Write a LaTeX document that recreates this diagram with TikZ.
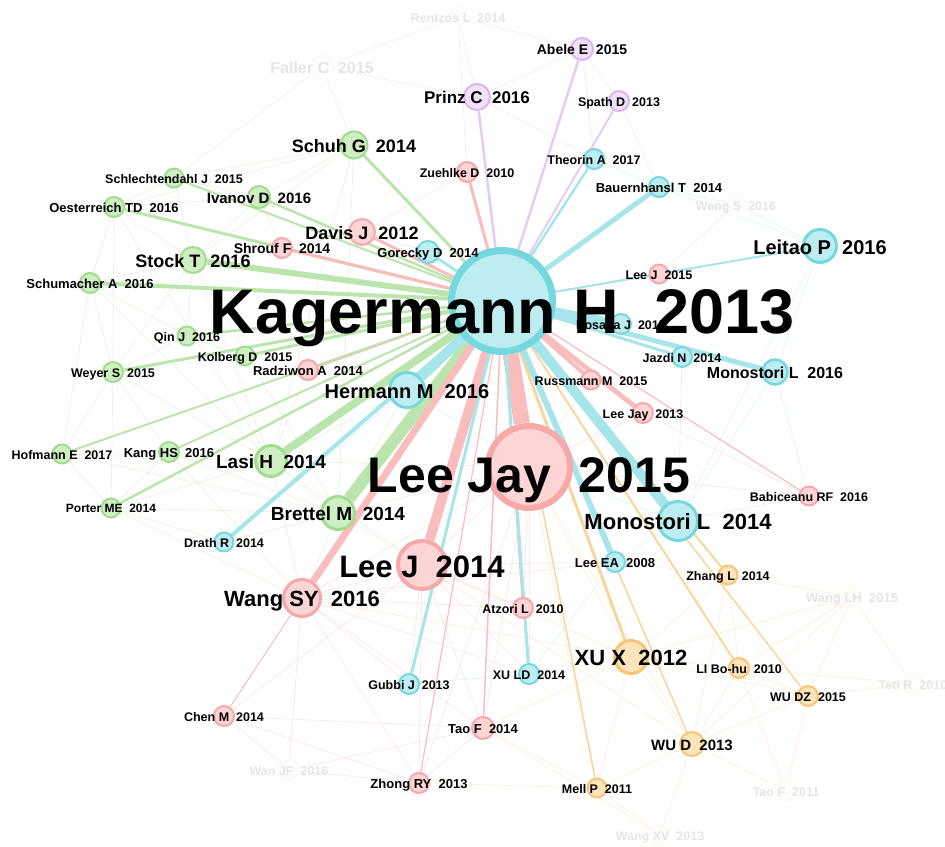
\documentclass[tikz,border=0pt]{standalone}
\usepackage{fontspec}
\setmainfont{Liberation Sans}
\usetikzlibrary{backgrounds}

\definecolor{cyanfill}{HTML}{BDEDF0}
\definecolor{cyanline}{HTML}{74D8DE}
\definecolor{cyanedge}{HTML}{A6E5E9}
\definecolor{redfill}{HTML}{FDD5D5}
\definecolor{redline}{HTML}{F7A8A8}
\definecolor{rededge}{HTML}{F9BDBD}
\definecolor{greenfill}{HTML}{CFEEC3}
\definecolor{greenline}{HTML}{A3DB90}
\definecolor{greenedge}{HTML}{BCE5AE}
\definecolor{purplefill}{HTML}{F0E0F8}
\definecolor{purpleline}{HTML}{DCB6EE}
\definecolor{purpleedge}{HTML}{E6CCF3}
\definecolor{orangefill}{HTML}{FDE4BA}
\definecolor{orangeline}{HTML}{F7C574}
\definecolor{orangeedge}{HTML}{F8D59C}

\newcommand\fsz[1]{\fontsize{#1}{#1}\selectfont\bfseries}

\begin{document}
\begin{tikzpicture}[x=1pt, y=-1pt,
          cnode/.style={circle, inner sep=0, line width=2, draw=cyanline, fill=cyanfill, minimum size=#1},
          rnode/.style={circle, inner sep=0, line width=2, draw=redline, fill=redfill, minimum size=#1},
          gnode/.style={circle, inner sep=0, line width=2, draw=greenline, fill=greenfill, minimum size=#1},
          pnode/.style={circle, inner sep=0, line width=2, draw=purpleline, fill=purplefill, minimum size=#1},
          onode/.style={circle, inner sep=0, line width=2, draw=orangeline, fill=orangefill, minimum size=#1},
          fnode/.style={circle, inner sep=0, line width=1.5, draw=#1!22, fill=#1!8},
          lbl/.style={anchor=base, inner sep=0, font=\fsz{#1}, yshift={-0.4pt*#1}},
          flbl/.style={lbl=#1, text=black!10},
          cedge/.style={draw=cyanedge, line width=#1},
          redge/.style={draw=rededge, line width=#1},
          gedge/.style={draw=greenedge, line width=#1},
          pedge/.style={draw=purpleedge, line width=#1},
          oedge/.style={draw=orangeedge, line width=#1},
          mesh/.style={draw=#1, line width=0.8, opacity=0.35}]
        \useasboundingbox (0,0) rectangle (945,846);

        \node [fnode=purplefill, minimum size=20] (rentzos) at (458,17) {};
        \node [fnode=purplefill, minimum size=24] (faller) at (322,67) {};
        \node [fnode=redfill, minimum size=20] (wangs) at (736,205) {};
        \node [fnode=redfill, minimum size=20] (wanjf) at (289,770) {};
        \node [fnode=orangefill, minimum size=20] (wanglh) at (852,597) {};
        \node [fnode=orangefill, minimum size=20] (tetir) at (913,684) {};
        \node [fnode=orangefill, minimum size=20] (taof11) at (786,791) {};
        \node [fnode=orangefill, minimum size=20] (wangxv) at (660,835) {};

        \node [pnode=22] (abele) at (582,49) {};
        \node [pnode=26] (prinz) at (477,97) {};
        \node [pnode=20] (spath) at (619,101) {};

        \node [gnode=27] (schuh) at (354,145) {};
        \node [gnode=19] (schlecht) at (174,178) {};
        \node [gnode=22] (ivanov) at (259,197) {};
        \node [gnode=20] (oester) at (114,207) {};
        \node [gnode=26] (stock) at (193,260) {};
        \node [gnode=20] (schum) at (90,283) {};
        \node [gnode=19] (qin) at (187,336) {};
        \node [gnode=19] (kolberg) at (245,356) {};
        \node [gnode=20] (weyer) at (113,372) {};
        \node [gnode=19] (hofmann) at (62,454) {};
        \node [gnode=20] (kang) at (169,452) {};
        \node [gnode=31, line width=3] (lasi) at (271,461) {};
        \node [gnode=19] (porter) at (111,508) {};
        \node [gnode=33, line width=3] (brettel) at (338,513) {};

        \node [rnode=26] (davis) at (362,232) {};
        \node [rnode=20] (shrouf) at (282,248) {};
        \node [rnode=20] (zuehlke) at (467,172) {};
        \node [rnode=20] (radz) at (308,370) {};
        \node [rnode=19] (leej15) at (659,274) {};
        \node [rnode=19] (russ) at (591,380) {};
        \node [rnode=20] (leejay13) at (643,413) {};
        \node [rnode=19] (babic) at (809,496) {};
        \node [rnode=20] (atzori) at (523,608) {};
        \node [rnode=20] (chen) at (224,716) {};
        \node [rnode=22] (taof14) at (483,728) {};
        \node [rnode=20] (zhong) at (419,783) {};
        \node [rnode=37, line width=3] (wangsy) at (302,598) {};
        \node [rnode=48, line width=4] (leej14) at (422,565) {};
        \node [rnode=82, line width=6] (leejay15) at (529,467) {};

        \node [cnode=22] (gorecky) at (428,252) {};
        \node [cnode=20] (theorin) at (594,159) {};
        \node [cnode=20] (bauern) at (659,187) {};
        \node [cnode=33, line width=3] (leitao) at (820,246) {};
        \node [cnode=20] (posada) at (621,324) {};
        \node [cnode=20] (jazdi) at (682,357) {};
        \node [cnode=25, line width=2.5] (monost16) at (775,372) {};
        \node [cnode=35, line width=3] (hermann) at (407,390) {};
        \node [cnode=39, line width=3] (monost14) at (678,521) {};
        \node [cnode=19] (drath) at (224,542) {};
        \node [cnode=20] (leeea) at (615,562) {};
        \node [cnode=20] (xuld) at (529,674) {};
        \node [cnode=20] (gubbi) at (409,684) {};
        \node [cnode=101, line width=7] (kag) at (502,301) {};

        \node [onode=33, line width=3] (xux) at (631,657) {};
        \node [onode=19] (zhang) at (728,575) {};
        \node [onode=20] (libohu) at (739,668) {};
        \node [onode=20] (wudz) at (808,696) {};
        \node [onode=24] (wud) at (692,744) {};
        \node [onode=19] (mellp) at (597,788) {};

        \begin{scope}[on background layer]
          \foreach \a/\b in {schuh/ivanov, schuh/stock, schuh/oester, schuh/schlecht, schuh/faller, schuh/lasi, schuh/brettel,
              schlecht/ivanov, schlecht/oester, schlecht/stock, oester/stock, oester/schum, oester/weyer, oester/ivanov,
              ivanov/stock, ivanov/shrouf, stock/schum, stock/qin, stock/weyer, stock/lasi, schum/weyer, schum/hofmann,
              schum/qin, qin/weyer, qin/kolberg, kolberg/weyer, weyer/hofmann, weyer/kang, weyer/porter, weyer/lasi,
              hofmann/porter, hofmann/kang, hofmann/lasi, kang/lasi, kang/porter, kang/brettel, porter/brettel, porter/lasi,
              porter/drath, lasi/brettel, lasi/hermann, brettel/hermann, brettel/leej14, brettel/leejay15, brettel/wangsy,
              lasi/leejay15, brettel/drath, hofmann/brettel, lasi/wangsy, kang/wangsy, porter/wangsy, lasi/leej14,
              schum/lasi, oester/lasi, stock/brettel}
            \draw [mesh=greenedge] (\a) -- (\b);
          \foreach \a/\b in {leejay15/leej14, leejay15/wangsy, leej14/wangsy, wangsy/wanjf, wanjf/chen, wanjf/zhong,
              zhong/taof14, taof14/leej14, zhong/leej14, wangsy/zhong, wangsy/taof14, wangsy/gubbi, leejay15/babic,
              leejay13/babic, leejay15/atzori, atzori/leej14, leejay15/taof14, leejay15/zhong, davis/shrouf, davis/gorecky,
              davis/zuehlke, radz/lasi, leej14/chen, leejay15/leejay13, leejay15/russ, leej14/gubbi, leejay15/xuld,
              babic/monost14, wangs/leej15, wangsy/atzori, chen/zhong, wanjf/taof14, leej14/xuld, wangsy/xuld,
              leej14/leeea, wangsy/leeea, chen/taof14}
            \draw [mesh=rededge] (\a) -- (\b);
          \foreach \a/\b in {xux/wud, xux/mellp, xux/libohu, wud/mellp, wud/wudz, wud/wangxv, mellp/wangxv, wudz/libohu,
              wudz/tetir, wudz/taof11, wanglh/zhang, wanglh/tetir, wanglh/wudz, wanglh/libohu, wud/taof11, libohu/taof11,
              zhang/libohu, xux/zhang, leejay15/xux, leejay15/wud, leejay15/mellp, xux/wudz, wud/libohu, mellp/taof14,
              xux/taof14, wangxv/taof14, wanglh/xux, zhang/wud, libohu/tetir, xux/leej14, wud/leej14, xux/wangsy,
              wanglh/wud, zhang/leeea, mellp/zhong}
            \draw [mesh=orangeedge] (\a) -- (\b);
          \foreach \a/\b in {faller/rentzos, rentzos/abele, faller/prinz, prinz/abele, abele/spath, spath/bauern,
              prinz/theorin, rentzos/prinz, faller/schlecht, rentzos/zuehlke, abele/theorin}
            \draw [mesh=purpleedge] (\a) -- (\b);
          \foreach \a/\b in {leitao/monost16, leitao/bauern, monost16/jazdi, monost14/monost16, leitao/wangs,
              bauern/theorin, bauern/wangs, monost14/leeea, leeea/xuld, gubbi/xuld, hermann/drath, monost14/jazdi,
              leitao/monost14, monost16/babic, hermann/leejay15, monost14/leejay15}
            \draw [mesh=cyanedge] (\a) -- (\b);

          \draw [redge=1] (wangsy) -- (chen);
          \draw [redge=1.2] (kag) -- (babic);
          \draw [redge=1.2] (kag) -- (zhong);
          \draw [redge=1.5] (kag) -- (taof14);
          \draw [redge=1.5] (kag) -- (leej15);
          \draw [redge=2] (kag) -- (atzori);
          \draw [redge=2] (kag) -- (radz);
          \draw [oedge=1.5] (kag) -- (mellp);
          \draw [oedge=1.5] (kag) -- (wud);
          \draw [oedge=1.5] (kag) -- (wudz);
          \draw [oedge=2] (kag) -- (libohu);
          \draw [oedge=2] (kag) -- (zhang);
          \draw [oedge=3] (kag) -- (xux);
          \draw [gedge=2] (kag) -- (schlecht);
          \draw [gedge=2] (kag) -- (hofmann);
          \draw [gedge=2] (kag) -- (kang);
          \draw [gedge=2.5] (kag) -- (porter);
          \draw [gedge=2.5] (kag) -- (ivanov);
          \draw [gedge=2.5] (kag) -- (qin);
          \draw [gedge=3] (kag) -- (kolberg);
          \draw [gedge=3] (kag) -- (weyer);
          \draw [gedge=3] (kag) -- (oester);
          \draw [gedge=3] (kag) -- (schuh);
          \draw [gedge=4] (kag) -- (schum);
          \draw [gedge=6] (kag) -- (stock);
          \draw [gedge=8] (kag) -- (lasi);
          \draw [gedge=12] (kag) -- (brettel);
          \draw [pedge=2] (kag) -- (spath);
          \draw [pedge=2.5] (kag) -- (prinz);
          \draw [pedge=2.5] (kag) -- (abele);
          \draw [redge=3] (kag) -- (davis);
          \draw [redge=3] (kag) -- (shrouf);
          \draw [redge=3] (kag) -- (zuehlke);
          \draw [redge=4] (kag) -- (russ);
          \draw [redge=5] (kag) -- (leejay13);
          \draw [redge=7] (kag) -- (wangsy);
          \draw [redge=10] (kag) -- (leej14);
          \draw [redge=16] (kag) -- (leejay15);
          \draw [cedge=2] (kag) -- (leitao);
          \draw [cedge=2.5] (kag) -- (theorin);
          \draw [cedge=3] (kag) -- (gorecky);
          \draw [cedge=3] (kag) -- (jazdi);
          \draw [cedge=3] (kag) -- (gubbi);
          \draw [cedge=3] (kag) -- (xuld);
          \draw [cedge=4] (kag) -- (drath);
          \draw [cedge=5] (kag) -- (bauern);
          \draw [cedge=5] (kag) -- (monost16);
          \draw [cedge=6] (kag) -- (leeea);
          \draw [cedge=8] (kag) -- (posada);
          \draw [cedge=10] (kag) -- (hermann);
          \draw [cedge=10] (kag) -- (monost14);
        \end{scope}

        \node [flbl=12.5] (rentzos-l) at (rentzos) {Rentzos L~~2014};
        \node [flbl=16] (faller-l) at (faller) {Faller C~~2015};
        \node [flbl=12.5] (wangs-l) at (wangs) {Wang S~~2016};
        \node [flbl=12.5] (wanjf-l) at (wanjf) {Wan JF~~2016};
        \node [flbl=13] (wanglh-l) at (wanglh) {Wang LH~~2015};
        \node [flbl=12.5] (tetir-l) at (tetir) {Teti R~~2010};
        \node [flbl=12.5] (taof11-l) at (taof11) {Tao F~~2011};
        \node [flbl=12.5] (wangxv-l) at (wangxv) {Wang XV~~2013};

        \node [lbl=14] (abele-l) at (abele) {Abele E~~2015};
        \node [lbl=17] (prinz-l) at (prinz) {Prinz C~~2016};
        \node [lbl=12.5] (spath-l) at (spath) {Spath D~~2013};
        \node [lbl=18] (schuh-l) at (schuh) {Schuh G~~2014};
        \node [lbl=12.5] (schlecht-l) at (schlecht) {Schlechtendahl J~~2015};
        \node [lbl=15] (ivanov-l) at (ivanov) {Ivanov D~~2016};
        \node [lbl=13] (oester-l) at (oester) {Oesterreich TD~~2016};
        \node [lbl=18] (stock-l) at (stock) {Stock T~~2016};
        \node [lbl=13] (schum-l) at (schum) {Schumacher A~~2016};
        \node [lbl=12.5] (qin-l) at (qin) {Qin J~~2016};
        \node [lbl=12.5] (kolberg-l) at (kolberg) {Kolberg D~~2015};
        \node [lbl=12.5] (weyer-l) at (weyer) {Weyer S~~2015};
        \node [lbl=12.5] (hofmann-l) at (hofmann) {Hofmann E~~2017};
        \node [lbl=13] (kang-l) at (kang) {Kang HS~~2016};
        \node [lbl=19] (lasi-l) at (lasi) {Lasi H~~2014};
        \node [lbl=12] (porter-l) at (porter) {Porter ME~~2014};
        \node [lbl=19] (brettel-l) at (brettel) {Brettel M~~2014};
        \node [lbl=18] (davis-l) at (davis) {Davis J~~2012};
        \node [lbl=14] (shrouf-l) at (shrouf) {Shrouf F~~2014};
        \node [lbl=12.5] (zuehlke-l) at (zuehlke) {Zuehlke D~~2010};
        \node [lbl=13] (radz-l) at (radz) {Radziwon A~~2014};
        \node [lbl=12.5] (leej15-l) at (leej15) {Lee J~~2015};
        \node [lbl=12.5] (russ-l) at (russ) {Russmann M~~2015};
        \node [lbl=12.5] (leejay13-l) at (leejay13) {Lee Jay~~2013};
        \node [lbl=12.5] (babic-l) at (babic) {Babiceanu RF~~2016};
        \node [lbl=12.5] (atzori-l) at (atzori) {Atzori L~~2010};
        \node [lbl=12.5] (chen-l) at (chen) {Chen M~~2014};
        \node [lbl=13] (taof14-l) at (taof14) {Tao F~~2014};
        \node [lbl=13] (zhong-l) at (zhong) {Zhong RY~~2013};
        \node [lbl=22] (wangsy-l) at (wangsy) {Wang SY~~2016};
        \node [lbl=13] (gorecky-l) at (gorecky) {Gorecky D~~2014};
        \node [lbl=12.5] (theorin-l) at (theorin) {Theorin A~~2017};
        \node [lbl=13] (bauern-l) at (bauern) {Bauernhansl T~~2014};
        \node [lbl=20] (leitao-l) at (leitao) {Leitao P~~2016};
        \node [lbl=12.5] (posada-l) at (posada) {Posada J~~2015};
        \node [lbl=12.5] (jazdi-l) at (jazdi) {Jazdi N~~2014};
        \node [lbl=16] (monost16-l) at (monost16) {Monostori L~~2016};
        \node [lbl=20] (hermann-l) at (hermann) {Hermann M~~2016};
        \node [lbl=22] (monost14-l) at (monost14) {Monostori L~~2014};
        \node [lbl=12.5] (drath-l) at (drath) {Drath R~~2014};
        \node [lbl=13] (leeea-l) at (leeea) {Lee EA~~2008};
        \node [lbl=12.5] (xuld-l) at (xuld) {XU LD~~2014};
        \node [lbl=12.5] (gubbi-l) at (gubbi) {Gubbi J~~2013};
        \node [lbl=22] (xux-l) at (xux) {XU X~~2012};
        \node [lbl=12.5] (zhang-l) at (zhang) {Zhang L~~2014};
        \node [lbl=12.5] (libohu-l) at (libohu) {LI Bo-hu~~2010};
        \node [lbl=12.5] (wudz-l) at (wudz) {WU DZ~~2015};
        \node [lbl=15] (wud-l) at (wud) {WU D~~2013};
        \node [lbl=12.5] (mellp-l) at (mellp) {Mell P~~2011};
        \node [lbl=31] (leej14-l) at (leej14) {Lee J~~2014};
        \node [lbl=50, yshift=-5pt] (leejay15-l) at (leejay15) {Lee Jay~~2015};
        \node [lbl=63, yshift=-7pt] (kag-l) at (kag) {Kagermann H~~2013};
      \end{tikzpicture}
\end{document}
